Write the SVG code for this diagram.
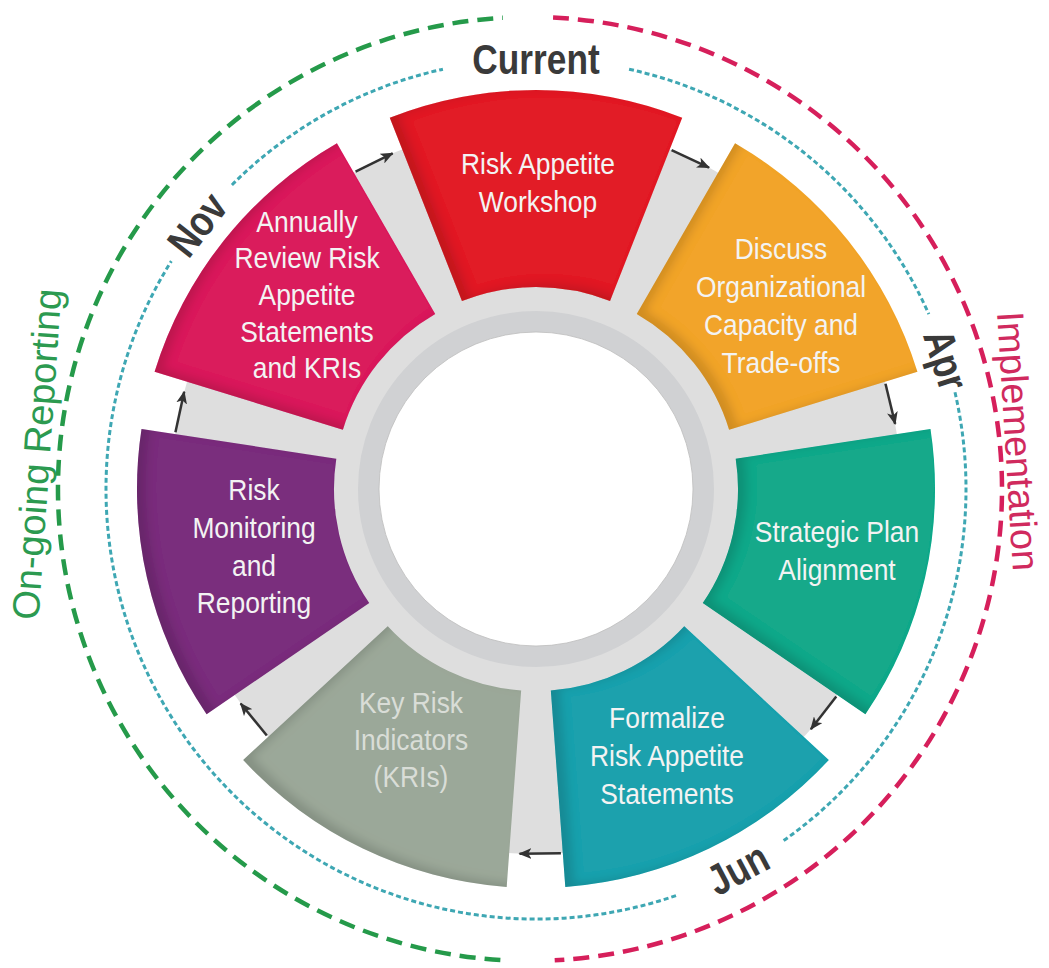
<svg xmlns="http://www.w3.org/2000/svg" width="1049" height="968" viewBox="0 0 1049 968">
  <style>
    .seg-text { font-family: "Liberation Sans", Arial, sans-serif; font-size: 30px; fill: #f3f3f3; text-anchor: middle; }
    .kri-text { fill: #d9ddd7; }
    .month { font-family: "Liberation Sans", Arial, sans-serif; font-weight: bold; font-size: 43px; fill: #3a3a3a; text-anchor: middle; }
    .phase { font-family: "Liberation Sans", Arial, sans-serif; font-size: 38px; text-anchor: middle; }
    .flow { fill: none; stroke: #333333; stroke-width: 2.5; marker-end: url(#head); }
    .seg { filter: url(#inset); }
  </style>
  <defs>
    <marker id="head" viewBox="0 0 12 10" refX="11" refY="5" markerWidth="13" markerHeight="11" markerUnits="userSpaceOnUse" orient="auto">
      <path d="M0,0 L12,5 L0,10 L3,5 Z" fill="#333333"/>
    </marker>
    <!-- soft inner shadow along the left edges of each ring segment -->
    <filter id="inset" x="-10%" y="-10%" width="120%" height="120%">
      <feGaussianBlur in="SourceAlpha" stdDeviation="5" result="blur"/>
      <feOffset in="blur" dx="9" dy="-3" result="shifted"/>
      <feComposite in="SourceAlpha" in2="shifted" operator="out" result="edge"/>
      <feFlood flood-color="#000000" flood-opacity="0.28"/>
      <feComposite in2="edge" operator="in" result="shade"/>
      <feMerge>
        <feMergeNode in="SourceGraphic"/>
        <feMergeNode in="shade"/>
      </feMerge>
    </filter>
  </defs>

  <rect width="1049" height="968" fill="#ffffff"/>

  <!-- phase arcs -->
  <g id="phase-arcs" fill="none">
    <path d="M553.06,17.56 A472,472 0 0 1 554.70,960.35" stroke="#d61f5b" stroke-width="4.5" stroke-dasharray="16 9"/>
    <path d="M500.36,960.07 A472,472 0 0 1 502.83,17.78" stroke="#259a4a" stroke-width="4.5" stroke-dasharray="16 9"/>
    <path d="M629.07,69.19 A430,430 0 0 1 928.83,314.10 M954.98,392.27 A430,430 0 0 1 782.64,841.23 M676.0,895.57 A430,430 0 0 1 171.34,261.13 M231.94,184.94 A430,430 0 0 1 442.93,69.19" stroke="#3ea7b3" stroke-width="3" stroke-dasharray="5 3"/>
  </g>

  <g id="phase-labels">
    <text class="phase" fill="#2c9a50" transform="translate(50,455) rotate(-86)">On-going Reporting</text>
    <text class="phase" fill="#d02a5e" font-size="39" transform="translate(1005,442) rotate(86.5)">Implementation</text>
  </g>

  <!-- ring base -->
  <g id="hub">
    <circle cx="536" cy="489" r="365" fill="#dedede"/>
    <circle cx="536" cy="489" r="167.5" fill="none" stroke="#d0d1d3" stroke-width="21"/>
    <circle cx="536" cy="489" r="157" fill="#ffffff" stroke="#bdbdbd" stroke-width="0.8"/>
  </g>

  <g id="month-labels">
    <text class="month" transform="translate(536,74) scale(0.82,1)">Current</text>
    <text class="month" transform="rotate(72.5 536 489) translate(536,74) scale(0.82,1)">Apr</text>
    <text class="month" transform="rotate(-28 536 489) translate(536,934) scale(0.82,1)">Jun</text>
    <text class="month" transform="rotate(-52 536 489) translate(536,74) scale(0.82,1)">Nov</text>
  </g>

  <g id="connectors">
    <path class="flow" d="M671.55,150.10 L709.04,167.62"/>
    <path class="flow" d="M885.48,383.68 L895.16,423.91"/>
    <path class="flow" d="M836.26,696.57 L810.87,729.15"/>
    <path class="flow" d="M560.91,853.15 L519.53,853.63"/>
    <path class="flow" d="M266.80,735.49 L240.66,703.47"/>
    <path class="flow" d="M175.43,432.26 L184.18,391.81"/>
    <path class="flow" d="M355.56,171.72 L392.62,153.34"/>
  </g>

  <g id="workshop">
    <path class="seg" fill="#e21f26" d="M389.77,117.76 A399,399 0 0 1 682.23,117.76 L610.03,301.05 A202,202 0 0 0 461.97,301.05 Z"/>
    <text class="seg-text" transform="translate(538,0) scale(0.88,1)"><tspan x="0" y="174">Risk Appetite</tspan><tspan x="0" y="212">Workshop</tspan></text>
  </g>

  <g id="capacity">
    <path class="seg" fill="#f2a42b" d="M735.07,143.21 A399,399 0 0 1 917.42,371.87 L729.10,429.70 A202,202 0 0 0 636.78,313.94 Z"/>
    <text class="seg-text" transform="translate(781,0) scale(0.88,1)"><tspan x="0" y="259">Discuss</tspan><tspan x="0" y="297">Organizational</tspan><tspan x="0" y="335">Capacity and</tspan><tspan x="0" y="373">Trade-offs</tspan></text>
  </g>

  <g id="strategic">
    <path class="seg" fill="#13a98a" d="M930.48,429.04 A399,399 0 0 1 865.41,714.19 L702.77,603.01 A202,202 0 0 0 735.71,458.65 Z"/>
    <text class="seg-text" transform="translate(837,0) scale(0.88,1)"><tspan x="0" y="542">Strategic Plan</tspan><tspan x="0" y="580">Alignment</tspan></text>
  </g>

  <g id="formalize">
    <path class="seg" fill="#1aa1ad" d="M828.83,760.03 A399,399 0 0 1 565.32,886.92 L550.84,690.45 A202,202 0 0 0 684.25,626.21 Z"/>
    <text class="seg-text" transform="translate(667,0) scale(0.88,1)"><tspan x="0" y="728">Formalize</tspan><tspan x="0" y="766">Risk Appetite</tspan><tspan x="0" y="804">Statements</tspan></text>
  </g>

  <g id="kri">
    <path class="seg" fill="#9ba899" d="M506.68,886.92 A399,399 0 0 1 243.17,760.03 L387.75,626.21 A202,202 0 0 0 521.16,690.45 Z"/>
    <text class="seg-text kri-text" transform="translate(411,0) scale(0.88,1)"><tspan x="0" y="713">Key Risk</tspan><tspan x="0" y="750">Indicators</tspan><tspan x="0" y="787">(KRIs)</tspan></text>
  </g>

  <g id="monitoring">
    <path class="seg" fill="#7a2e7d" d="M206.59,714.19 A399,399 0 0 1 141.52,429.04 L336.29,458.65 A202,202 0 0 0 369.23,603.01 Z"/>
    <text class="seg-text" transform="translate(254,0) scale(0.88,1)"><tspan x="0" y="500">Risk</tspan><tspan x="0" y="538">Monitoring</tspan><tspan x="0" y="576">and</tspan><tspan x="0" y="613">Reporting</tspan></text>
  </g>

  <g id="annual-review">
    <path class="seg" fill="#da1c5c" d="M154.58,371.87 A399,399 0 0 1 336.93,143.21 L435.22,313.94 A202,202 0 0 0 342.90,429.70 Z"/>
    <text class="seg-text" transform="translate(307,0) scale(0.88,1)"><tspan x="0" y="232">Annually</tspan><tspan x="0" y="268">Review Risk</tspan><tspan x="0" y="305">Appetite</tspan><tspan x="0" y="342">Statements</tspan><tspan x="0" y="378">and KRIs</tspan></text>
  </g>
</svg>
